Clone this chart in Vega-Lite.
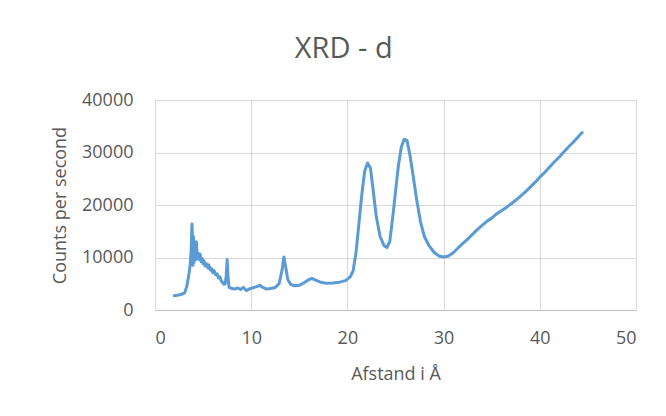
{
  "$schema": "https://vega.github.io/schema/vega-lite/v6.json",
  "width": 481,
  "height": 210,
  "autosize": {"type": "none"},
  "padding": {"left": 155, "top": 100, "right": 30, "bottom": 106},
  "background": "white",
  "title": {
    "text": "XRD - d",
    "anchor": "middle",
    "frame": "bounds",
    "fontSize": 29,
    "font": "Open Sans",
    "fontWeight": "normal",
    "color": "#595959",
    "baseline": "alphabetic",
    "offset": 4
  },
  "data": {
    "values": [
      {"x": 2.0, "y": 2700}, {"x": 2.3, "y": 2800}, {"x": 2.6, "y": 2900}, {"x": 2.9, "y": 3100},
      {"x": 3.1, "y": 3300}, {"x": 3.3, "y": 4500}, {"x": 3.5, "y": 6500}, {"x": 3.65, "y": 8500},
      {"x": 3.75, "y": 11000}, {"x": 3.85, "y": 16400}, {"x": 3.9, "y": 13000}, {"x": 3.95, "y": 8500},
      {"x": 4.0, "y": 14000}, {"x": 4.05, "y": 9000}, {"x": 4.1, "y": 12500}, {"x": 4.2, "y": 9500},
      {"x": 4.3, "y": 13000}, {"x": 4.4, "y": 9800}, {"x": 4.5, "y": 10800}, {"x": 4.6, "y": 9600},
      {"x": 4.7, "y": 10600}, {"x": 4.8, "y": 9200}, {"x": 4.9, "y": 9800}, {"x": 5.0, "y": 8800},
      {"x": 5.1, "y": 9400}, {"x": 5.2, "y": 8400}, {"x": 5.35, "y": 8800}, {"x": 5.5, "y": 8000},
      {"x": 5.6, "y": 8600}, {"x": 5.75, "y": 7600}, {"x": 5.9, "y": 7900}, {"x": 6.0, "y": 7100},
      {"x": 6.15, "y": 7500}, {"x": 6.3, "y": 6700}, {"x": 6.45, "y": 6900}, {"x": 6.6, "y": 6100},
      {"x": 6.75, "y": 6300}, {"x": 6.9, "y": 5500}, {"x": 7.0, "y": 5300}, {"x": 7.15, "y": 4900},
      {"x": 7.3, "y": 5000}, {"x": 7.4, "y": 6500}, {"x": 7.5, "y": 9600}, {"x": 7.6, "y": 6000},
      {"x": 7.7, "y": 4300}, {"x": 8.0, "y": 4100}, {"x": 8.3, "y": 4000}, {"x": 8.6, "y": 4200},
      {"x": 8.9, "y": 3900}, {"x": 9.2, "y": 4300}, {"x": 9.5, "y": 3700}, {"x": 9.8, "y": 4000},
      {"x": 10.1, "y": 4200}, {"x": 10.5, "y": 4400}, {"x": 10.9, "y": 4700}, {"x": 11.2, "y": 4300},
      {"x": 11.6, "y": 4000}, {"x": 12.0, "y": 4100}, {"x": 12.5, "y": 4300}, {"x": 12.9, "y": 5000},
      {"x": 13.2, "y": 7500}, {"x": 13.4, "y": 10100}, {"x": 13.6, "y": 8000}, {"x": 13.8, "y": 5800},
      {"x": 14.1, "y": 4900}, {"x": 14.5, "y": 4600}, {"x": 15.0, "y": 4700}, {"x": 15.5, "y": 5200},
      {"x": 16.0, "y": 5800}, {"x": 16.3, "y": 6000}, {"x": 16.7, "y": 5700}, {"x": 17.2, "y": 5300},
      {"x": 17.8, "y": 5100}, {"x": 18.5, "y": 5150}, {"x": 19.2, "y": 5300}, {"x": 19.8, "y": 5600},
      {"x": 20.3, "y": 6300}, {"x": 20.6, "y": 7500}, {"x": 20.9, "y": 11000}, {"x": 21.2, "y": 16500},
      {"x": 21.5, "y": 22000}, {"x": 21.8, "y": 26500}, {"x": 22.1, "y": 28000}, {"x": 22.4, "y": 27000},
      {"x": 22.7, "y": 22500}, {"x": 23.0, "y": 17800}, {"x": 23.4, "y": 14000}, {"x": 23.8, "y": 12300},
      {"x": 24.1, "y": 11900}, {"x": 24.4, "y": 13000}, {"x": 24.7, "y": 17500}, {"x": 25.0, "y": 22500},
      {"x": 25.3, "y": 27500}, {"x": 25.6, "y": 31000}, {"x": 25.9, "y": 32500}, {"x": 26.2, "y": 32300},
      {"x": 26.5, "y": 29500}, {"x": 26.8, "y": 26000}, {"x": 27.2, "y": 21000}, {"x": 27.6, "y": 16800},
      {"x": 28.0, "y": 14000}, {"x": 28.5, "y": 12200}, {"x": 29.0, "y": 11000}, {"x": 29.5, "y": 10300},
      {"x": 30.0, "y": 10100}, {"x": 30.5, "y": 10300}, {"x": 31.0, "y": 10900}, {"x": 31.5, "y": 11800},
      {"x": 32.0, "y": 12700}, {"x": 32.5, "y": 13500}, {"x": 33.0, "y": 14400}, {"x": 33.5, "y": 15300},
      {"x": 34.0, "y": 16100}, {"x": 34.5, "y": 16900}, {"x": 35.0, "y": 17500}, {"x": 35.5, "y": 18300},
      {"x": 36.0, "y": 18900}, {"x": 36.5, "y": 19500}, {"x": 37.0, "y": 20200}, {"x": 37.5, "y": 20900},
      {"x": 38.0, "y": 21700}, {"x": 38.5, "y": 22500}, {"x": 39.0, "y": 23400}, {"x": 39.5, "y": 24300},
      {"x": 40.0, "y": 25300}, {"x": 40.5, "y": 26200}, {"x": 41.0, "y": 27200}, {"x": 41.5, "y": 28200},
      {"x": 42.0, "y": 29100}, {"x": 42.5, "y": 30100}, {"x": 43.0, "y": 31100}, {"x": 43.5, "y": 32000},
      {"x": 44.0, "y": 33000}, {"x": 44.4, "y": 33800}
    ]
  },
  "mark": {"type": "line", "color": "#5B9BD5", "strokeWidth": 3, "strokeJoin": "round", "strokeCap": "round"},
  "encoding": {
    "x": {
      "field": "x",
      "type": "quantitative",
      "scale": {"domain": [0, 50], "nice": false},
      "axis": {
        "title": "Afstand i Å",
        "values": [0, 10, 20, 30, 40, 50],
        "labelPadding": 19,
        "titlePadding": 18
      }
    },
    "y": {
      "field": "y",
      "type": "quantitative",
      "scale": {"domain": [0, 40000], "nice": false},
      "axis": {
        "title": "Counts per second",
        "values": [0, 10000, 20000, 30000, 40000],
        "format": "d",
        "labelPadding": 22,
        "titlePadding": 12,
        "domain": false
      }
    }
  },
  "config": {
    "view": {"stroke": null},
    "axis": {
      "grid": true,
      "gridColor": "#D9D9D9",
      "gridWidth": 1,
      "ticks": false,
      "domainColor": "#BFBFBF",
      "domainWidth": 1,
      "labelFont": "Open Sans",
      "labelFontSize": 18,
      "labelColor": "#595959",
      "titleFont": "Open Sans",
      "titleFontSize": 18,
      "titleFontWeight": "normal",
      "titleColor": "#595959"
    }
  }
}
